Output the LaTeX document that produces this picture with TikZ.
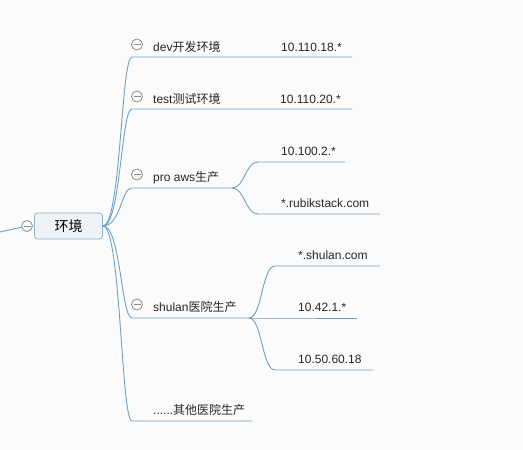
\documentclass[tikz,border=0pt]{standalone}
\usepackage{fontspec}
\setmainfont{Liberation Sans}
\newfontfamily\cjk{Noto Sans CJK SC}
\usetikzlibrary{positioning}

\definecolor{bgcol}{HTML}{FBFBFB}
\definecolor{linkblue}{HTML}{6E9FC6}
\definecolor{rootline}{HTML}{8DB0CD}
\definecolor{rootfill}{HTML}{EEF3F7}
\definecolor{foldgray}{HTML}{8C8C8C}

\tikzset{
  topic/.style={anchor=base west,inner sep=0pt,font=\fontsize{12}{14}\selectfont,text=black!85},
  branch/.style={draw=linkblue,line width=0.9pt},
  rootbox/.style={draw=rootline,fill=rootfill,rounded corners=3pt,line width=0.8pt,
    minimum width=68pt,minimum height=26pt,inner sep=0pt,font=\cjk\fontsize{14}{16}\selectfont},
  fold/.style={circle,draw=foldgray,fill=bgcol,line width=0.8pt,minimum size=11pt,inner sep=0pt,
    path picture={\draw[foldgray,line width=0.8pt]
      ([xshift=-3.5pt]path picture bounding box.center) -- ([xshift=3.5pt]path picture bounding box.center);}}
}

\begin{document}
\begin{tikzpicture}[x=1pt,y=-1pt]
    \useasboundingbox[fill=bgcol] (0,0) rectangle (523,450);

    % root
    \node[rootbox] (env) at (68.5,226) {环境};
    \node[fold] (f0) at (27,226) {};
    \coordinate (in) at (0,232);
    \draw[branch] (in) -- (f0);

    % underlines
    \coordinate (dev) at (132,57);    \coordinate (devend) at (352,57);
    \coordinate (test) at (132,109);  \coordinate (testend) at (352,109);
    \coordinate (pro) at (132,188);   \coordinate (proend) at (232,188);
    \coordinate (shu) at (132,318);   \coordinate (shuend) at (249,318);
    \coordinate (oth) at (132,421);   \coordinate (othend) at (252,421);
    \coordinate (aws1) at (258,162);  \coordinate (aws1end) at (345,162);
    \coordinate (aws2) at (258,214);  \coordinate (aws2end) at (380,214);
    \coordinate (sl1) at (275,266);   \coordinate (sl1end) at (380,266);
    \coordinate (sl2) at (275,318);   \coordinate (sl2end) at (357,318);
    \coordinate (sl3) at (275,370);   \coordinate (sl3end) at (373,370);

    \foreach \t in {dev,test,pro,shu,oth}
      \draw[branch] (env.east) .. controls +(18,0) and +(-11,0) .. (\t) -- (\t end);
    \foreach \t in {aws1,aws2}
      \draw[branch] (proend) .. controls +(13,0) and +(-13,0) .. (\t) -- (\t end);
    \foreach \t in {sl1,sl2,sl3}
      \draw[branch] (shuend) .. controls +(13,0) and +(-13,0) .. (\t) -- (\t end);

    % topics
    \node[topic] (devt) at (153,51) {dev{\cjk 开发环境}};
    \node[topic] (devip) at (281,51) {10.110.18.*};
    \node[topic] (testt) at (153,103) {test{\cjk 测试环境}};
    \node[topic] (testip) at (280,103) {10.110.20.*};
    \node[topic] (prot) at (153,181) {pro aws{\cjk 生产}};
    \node[topic] (awsip) at (281,155) {10.100.2.*};
    \node[topic] (awsdom) at (281,207) {*.rubikstack.com};
    \node[topic] (shut) at (153,311) {shulan{\cjk 医院生产}};
    \node[topic] (sldom) at (298,259) {*.shulan.com};
    \node[topic] (slip1) at (298,311) {10.42.1.*};
    \node[topic] (slip2) at (298,363) {10.50.60.18};
    \node[topic] (otht) at (153,414) {......{\cjk 其他医院生产}};

    % fold marks
    \node[fold] (f1) at (137,44.5) {};
    \node[fold] (f2) at (137,96.5) {};
    \node[fold] (f3) at (137,174.5) {};
    \node[fold] (f4) at (137,304.5) {};
\end{tikzpicture}
\end{document}
